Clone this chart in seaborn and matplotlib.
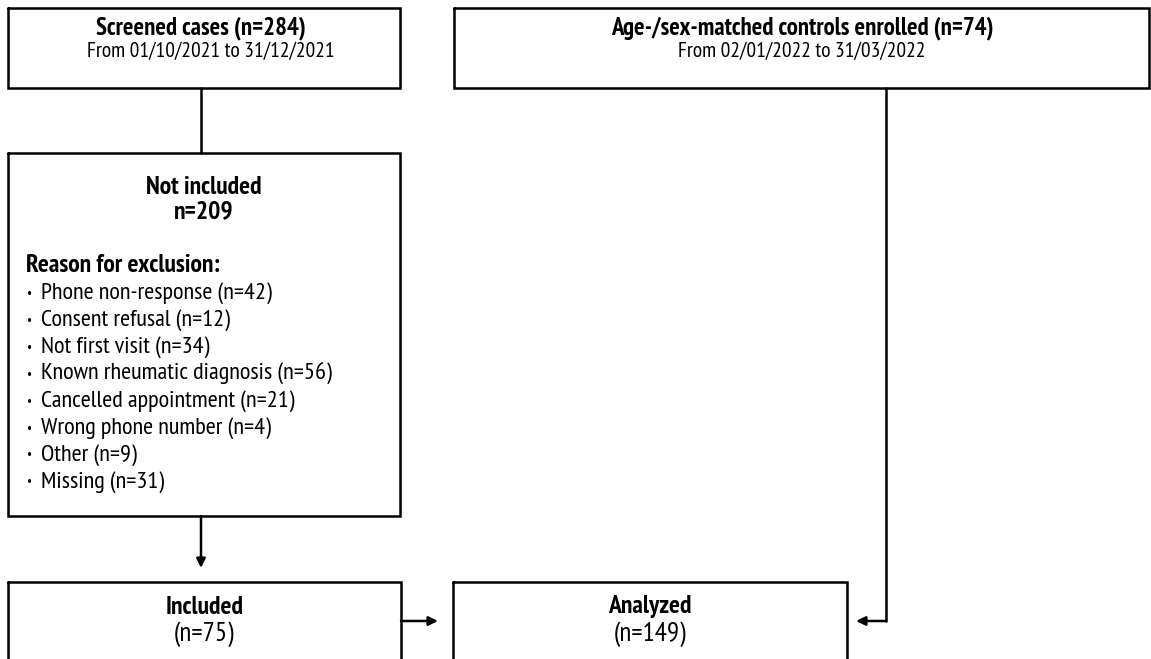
import matplotlib
matplotlib.use("Agg")
import matplotlib.pyplot as plt
import seaborn as sns

sns.set_theme(style="white")
plt.rcParams['font.family'] = ['PT Sans Narrow', 'Fira Sans Condensed', 'DejaVu Sans']

# Flowchart content
screened_n = 284
screened_period = "From 01/10/2021 to 31/12/2021"
controls_n = 74
controls_period = "From 02/01/2022 to 31/03/2022"
not_included_n = 209
reasons = ["Phone non-response", "Consent refusal", "Not first visit",
           "Known rheumatic diagnosis", "Cancelled appointment",
           "Wrong phone number", "Other", "Missing"]
reason_counts = [42, 12, 34, 56, 21, 4, 9, 31]
included_n = 75
analyzed_n = 149

fig = plt.figure(figsize=(11.51, 6.59), dpi=100)
ax = fig.add_axes([0, 0, 1, 1])
ax.set_xlim(0, 1151)
ax.set_ylim(659, 0)
ax.axis('off')

LW = 1.8
FS = 14
TXT = dict(color='black', va='center', fontsize=FS)


def box(x0, y0, x1, y1):
    ax.plot([x0, x1, x1, x0, x0], [y0, y0, y1, y1, y0], color='black', lw=LW,
            solid_joinstyle='miter', clip_on=False)


def arrow(x0, y0, x1, y1):
    ax.annotate('', xy=(x1, y1), xytext=(x0, y0),
                arrowprops=dict(arrowstyle='-|>,head_length=0.45,head_width=0.22',
                                color='black', lw=LW, shrinkA=0, shrinkB=0))


def fit_group(texts, ref, width):
    # scale a group of texts so the reference one spans the wanted pixel width
    fig.canvas.draw()
    w = ref.get_window_extent(renderer=fig.canvas.get_renderer()).width
    for t in texts:
        t.set_fontsize(t.get_fontsize() * width / w)


# boxes
box(8, 8, 400, 88)
box(454, 8, 1149, 88)
box(8, 153, 400, 516)
box(8, 582, 401, 680)
box(453, 582, 847, 680)

# connectors
ax.plot([201, 201], [88, 153], color='black', lw=LW)
arrow(201, 516, 201, 568)
arrow(401, 621, 438, 621)
ax.plot([886, 886], [88, 621], color='black', lw=LW)
arrow(886, 621, 856, 621)

# top boxes
head_b = [
    ax.text(201, 28, f"Screened cases (n={screened_n})", ha='center',
            fontweight='bold', **TXT),
    ax.text(802, 28, f"Age-/sex-matched controls enrolled (n={controls_n})",
            ha='center', fontweight='bold', **TXT),
]
head_r = [
    ax.text(211, 51, screened_period, ha='center', **TXT),
    ax.text(802, 51, controls_period, ha='center', **TXT),
]
fit_group(head_b, head_b[0], 210)
fit_group(head_r, head_r[0], 250)

# exclusion box
excl_b = [
    ax.text(204, 187, "Not included", ha='center', fontweight='bold', **TXT),
    ax.text(204, 212, f"n={not_included_n}", ha='center', fontweight='bold', **TXT),
    ax.text(26, 265, "Reason for exclusion:", ha='left', fontweight='bold', **TXT),
]
items, bullets = [], []
for i, (r, c) in enumerate(zip(reasons, reason_counts)):
    y = 293.5 + i * 26.9
    bullets.append(ax.text(27, y, "\u2022", ha='left', color='black',
                           va='center', fontsize=10))
    items.append(ax.text(41, y, f"{r} (n={c})", ha='left', **TXT))
fit_group(excl_b, excl_b[2], 196)
fit_group(items, items[0], 234)

# bottom boxes
bottom_b = [
    ax.text(650, 607, "Analyzed", ha='center', fontweight='bold', **TXT),
    ax.text(205, 607, "Included", ha='center', fontweight='bold', **TXT),
]
bottom_r = [
    ax.text(650, 634, f"(n={analyzed_n})", ha='center', **TXT),
    ax.text(204, 634, f"(n={included_n})", ha='center', **TXT),
]
fit_group(bottom_b, bottom_b[0], 84)
fit_group(bottom_r, bottom_r[0], 73)

fig.savefig('out.png', dpi=100, facecolor='white')
